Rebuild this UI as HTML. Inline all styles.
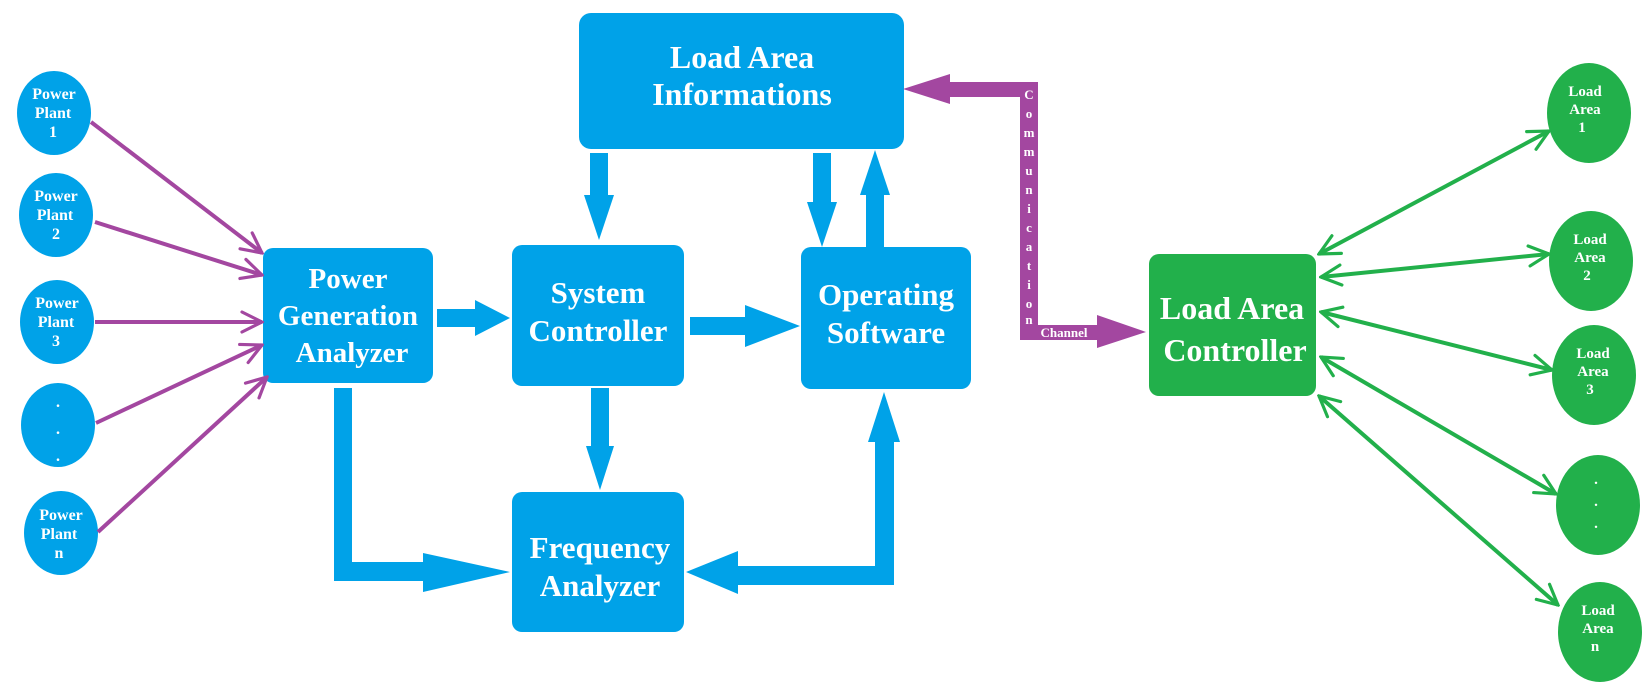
<!DOCTYPE html>
<html><head><meta charset="utf-8"><style>
html,body{margin:0;padding:0;background:#fff;width:1650px;height:696px;overflow:hidden}
text{font-family:"Liberation Serif",serif;font-weight:bold;fill:#fff;text-anchor:middle}
</style></head><body>
<svg width="1650" height="696" viewBox="0 0 1650 696" xmlns="http://www.w3.org/2000/svg">
<defs>
<marker id="pa" viewBox="0 0 12 12" refX="11" refY="6" markerWidth="6" markerHeight="6" orient="auto-start-reverse" markerUnits="strokeWidth">
<path d="M1,1 L11,6 L1,11" fill="none" stroke="#a347a0" stroke-width="1.6" stroke-linecap="round"/></marker>
<marker id="ga" viewBox="0 0 12 12" refX="11" refY="6" markerWidth="6" markerHeight="6" orient="auto-start-reverse" markerUnits="strokeWidth">
<path d="M1,1 L11,6 L1,11" fill="none" stroke="#22b04b" stroke-width="1.6" stroke-linecap="round"/></marker>
</defs>
<g fill="#00a2e8">
<rect x="579" y="13" width="325" height="136" rx="12"/>
<rect x="263" y="248" width="170" height="135" rx="10"/>
<rect x="512" y="245" width="172" height="141" rx="10"/>
<rect x="801" y="247" width="170" height="142" rx="10"/>
<rect x="512" y="492" width="172" height="140" rx="10"/>
<ellipse cx="54" cy="113" rx="37" ry="42"/>
<ellipse cx="56" cy="215" rx="37" ry="42"/>
<ellipse cx="57" cy="322" rx="37" ry="42"/>
<ellipse cx="58" cy="425" rx="37" ry="42"/>
<ellipse cx="61" cy="533" rx="37" ry="42"/>
<polygon points="437,309 475,309 475,300 510,318 475,336 475,327 437,327"/>
<polygon points="690,317 745,317 745,305 800,326 745,347 745,335 690,335"/>
<polygon points="590,153 608,153 608,195 614,195 599,240 584,195 590,195"/>
<polygon points="813,153 831,153 831,202 837,202 822,247 807,202 813,202"/>
<polygon points="866,247 884,247 884,195 890,195 875,150 860,195 866,195"/>
<polygon points="591,388 609,388 609,446 614,446 600,490 586,446 591,446"/>
<polygon points="334,388 352,388 352,562 423,562 423,553 510,572 423,592 423,581 334,581"/>
<polygon points="894,442 894,585 738,585 738,594 686,572 738,551 738,566 875,566 875,442 868,442 884,392 900,442"/>
</g>
<g stroke="#a347a0" stroke-width="4" fill="none" marker-end="url(#pa)">
<line x1="91" y1="122" x2="262" y2="253"/>
<line x1="95" y1="222" x2="262" y2="275"/>
<line x1="95" y1="322" x2="262" y2="322"/>
<line x1="96" y1="423" x2="262" y2="345"/>
<line x1="98" y1="532" x2="267" y2="377"/>
</g>
<polygon fill="#a347a0" points="903,89 950,74 950,82 1038,82 1038,325 1097,325 1097,315 1146,332 1097,348 1097,340 1020,340 1020,97 950,97 950,104"/>
<g font-size="13">
<text x="1029" y="99">C</text><text x="1029" y="118">o</text><text x="1029" y="137">m</text><text x="1029" y="156">m</text><text x="1029" y="175">u</text><text x="1029" y="194">n</text><text x="1029" y="213">i</text><text x="1029" y="232">c</text><text x="1029" y="251">a</text><text x="1029" y="270">t</text><text x="1029" y="289">i</text><text x="1029" y="308">o</text><text x="1029" y="324">n</text>
<text x="1064" y="337">Channel</text>
</g>
<rect x="1149" y="254" width="167" height="142" rx="10" fill="#22b04b"/>
<g fill="#22b04b">
<ellipse cx="1589" cy="113" rx="42" ry="50"/>
<ellipse cx="1591" cy="261" rx="42" ry="50"/>
<ellipse cx="1594" cy="375" rx="42" ry="50"/>
<ellipse cx="1598" cy="505" rx="42" ry="50"/>
<ellipse cx="1600" cy="632" rx="42" ry="50"/>
</g>
<g stroke="#22b04b" stroke-width="4" fill="none" marker-end="url(#ga)" marker-start="url(#ga)">
<line x1="1319" y1="254" x2="1549" y2="131"/>
<line x1="1321" y1="277" x2="1549" y2="254"/>
<line x1="1321" y1="312" x2="1552" y2="370"/>
<line x1="1321" y1="357" x2="1556" y2="494"/>
<line x1="1319" y1="396" x2="1558" y2="605"/>
</g>
<g font-size="32">
<text x="742" y="68">Load  Area</text>
<text x="742" y="105">Informations</text>
</g>
<g font-size="29">
<text x="348" y="288">Power</text><text x="348" y="325">Generation</text><text x="352" y="362">Analyzer</text>
</g>
<g font-size="31">
<text x="598" y="303">System</text><text x="598" y="341">Controller</text>
<text x="886" y="305">Operating</text><text x="886" y="343">Software</text>
<text x="600" y="558">Frequency</text><text x="600" y="596">Analyzer</text>
</g>
<g font-size="32">
<text x="1232" y="319">Load Area</text><text x="1235" y="361">Controller</text>
</g>
<g font-size="16">
<text x="54" y="99">Power</text><text x="53" y="118">Plant</text><text x="53" y="137">1</text>
<text x="56" y="201">Power</text><text x="55" y="220">Plant</text><text x="56" y="239">2</text>
<text x="57" y="308">Power</text><text x="56" y="327">Plant</text><text x="56" y="346">3</text>
<text x="58" y="407">.</text><text x="58" y="434">.</text><text x="58" y="461">.</text>
<text x="61" y="520">Power</text><text x="59" y="539">Plant</text><text x="59" y="558">n</text>
</g>
<g font-size="15">
<text x="1585" y="96">Load</text><text x="1585" y="114">Area</text><text x="1582" y="132">1</text>
<text x="1590" y="244">Load</text><text x="1590" y="262">Area</text><text x="1587" y="280">2</text>
<text x="1593" y="358">Load</text><text x="1593" y="376">Area</text><text x="1590" y="394">3</text>
<text x="1596" y="484">.</text><text x="1596" y="506">.</text><text x="1596" y="528">.</text>
<text x="1598" y="615">Load</text><text x="1598" y="633">Area</text><text x="1595" y="651">n</text>
</g>
</svg>
</body></html>
